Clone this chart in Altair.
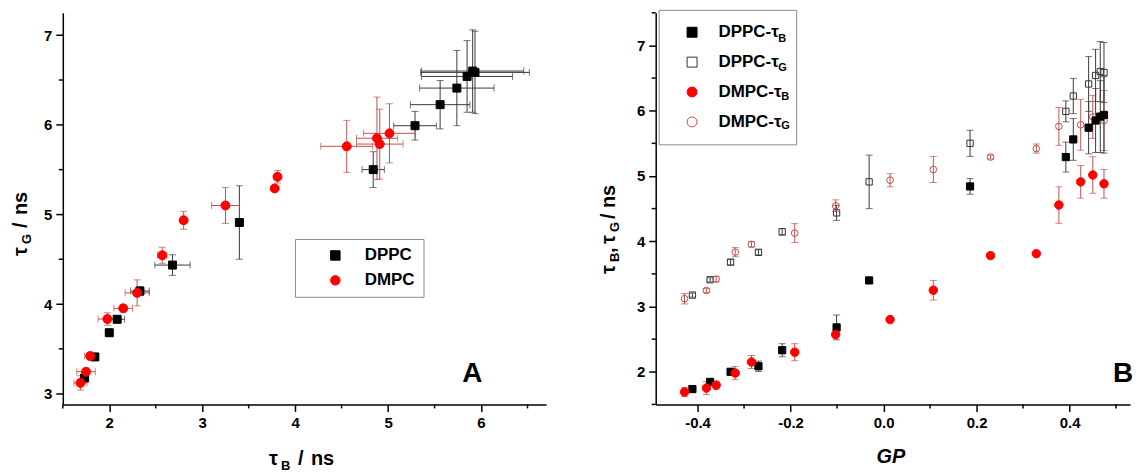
import altair as alt
import pandas as pd

# ---------------- data ----------------
lipids = ["DPPC", "DMPC"]
series_b = ["DPPC-τB", "DPPC-τG", "DMPC-τB", "DMPC-τG"]
series_sub = ["B", "G", "B", "G"]

dppc_gp = [-0.411, -0.373, -0.329, -0.269, -0.218, -0.101, -0.031, 0.186,
           0.392, 0.408, 0.441, 0.456, 0.466, 0.474]
dppc_tauB = [1.735, 1.845, 2.00, 2.085, 2.33, 2.68, 3.40, 4.84,
             5.29, 5.56, 5.74, 5.85, 5.91, 5.935]
dppc_tauB_err = [0.03, 0.03, 0.04, 0.08, 0.10, 0.19, 0.03, 0.12,
                 0.23, 0.32, 0.40, 0.49, 0.55, 0.585]
dppc_tauG = [3.175, 3.41, 3.68, 3.83, 4.145, 4.435, 4.91, 5.50,
             5.99, 6.225, 6.41, 6.54, 6.60, 6.585]
dppc_tauG_err = [0.03, 0.03, 0.04, 0.04, 0.05, 0.115, 0.41, 0.20,
                 0.16, 0.27, 0.42, 0.40, 0.46, 0.46]

dmpc_gp = [-0.428, -0.381, -0.36, -0.319, -0.284, -0.191, -0.103, 0.014,
           0.107, 0.23, 0.3285, 0.377, 0.424, 0.45, 0.474]
dmpc_tauB = [1.69, 1.75, 1.795, 1.98, 2.15, 2.30, 2.57, 2.80,
             3.25, 3.78, 3.81, 4.555, 4.91, 5.015, 4.88]
dmpc_tauB_err = [0.07, 0.10, 0.06, 0.10, 0.10, 0.13, 0.05, 0.02,
                 0.15, 0.02, 0.02, 0.28, 0.25, 0.28, 0.22]
dmpc_tauG = [3.12, 3.245, 3.42, 3.833, 3.952, 4.125, 4.544, 4.935,
             5.10, 5.29, 5.42, 5.76, 5.785, 5.905, 5.85]
dmpc_tauG_err = [0.08, 0.03, 0.04, 0.07, 0.04, 0.145, 0.09, 0.10,
                 0.20, 0.03, 0.07, 0.29, 0.39, 0.33, 0.46]

a_x_ticks = [2, 3, 4, 5, 6]
a_x_minor = [1.5, 2.5, 3.5, 4.5, 5.5, 6.5]
a_y_ticks = [3, 4, 5, 6, 7]
a_y_minor = [3.5, 4.5, 5.5, 6.5]
b_x_ticks = [-0.4, -0.2, 0.0, 0.2, 0.4]
b_x_minor = [-0.3, -0.1, 0.1, 0.3, 0.5]
b_y_ticks = [2, 3, 4, 5, 6, 7]
b_y_minor = [1.5, 2.5, 3.5, 4.5, 5.5, 6.5, 7.5]

# ---------------- styling ----------------
FONT = "Liberation Sans"
BLACK = "#000000"
RED = "#ff0000"
DPPC_BAR = "#3a3a3a"
DMPC_BAR = "#c0504d"
WA, HA = 485, 393
WB, HB = 476, 393
TITLE_FS = 20
SUB_FS = 13
LEG_FS = 17

# ---------------- panel A ----------------
dfA = pd.DataFrame({
    "lipid": ["DPPC"] * len(dppc_tauB) + ["DMPC"] * len(dmpc_tauB),
    "tauB": dppc_tauB + dmpc_tauB,
    "tauG": dppc_tauG + dmpc_tauG,
    "eB": dppc_tauB_err + dmpc_tauB_err,
    "eG": dppc_tauG_err + dmpc_tauG_err,
})
dfA["xlo"] = dfA.tauB - dfA.eB
dfA["xhi"] = dfA.tauB + dfA.eB
dfA["ylo"] = dfA.tauG - dfA.eG
dfA["yhi"] = dfA.tauG + dfA.eG

sxA = alt.Scale(domain=[1.5, 6.7], nice=False, zero=False)
syA = alt.Scale(domain=[2.88, 7.25], nice=False, zero=False)
axA = alt.Axis(values=a_x_ticks, title=None, format="d")
ayA = alt.Axis(values=a_y_ticks, title=None, format="d")


def XA(f):
    return alt.X(f, type="quantitative", scale=sxA, axis=axA)


def YA(f):
    return alt.Y(f, type="quantitative", scale=syA, axis=ayA)


layersA = []
for lip, col in [("DPPC", DPPC_BAR), ("DMPC", DMPC_BAR)]:
    base = alt.Chart(dfA).transform_filter(alt.datum.lipid == lip)
    layersA.append(base.mark_rule(color=col, strokeWidth=1).encode(x=XA("xlo"), x2="xhi", y=YA("tauG")))
    layersA.append(base.mark_rule(color=col, strokeWidth=1).encode(x=XA("tauB"), y=YA("ylo"), y2="yhi"))
    for f in ["xlo", "xhi"]:
        layersA.append(base.mark_tick(color=col, orient="vertical", size=7, thickness=1).encode(x=XA(f), y=YA("tauG")))
    for f in ["ylo", "yhi"]:
        layersA.append(base.mark_tick(color=col, orient="horizontal", size=7, thickness=1).encode(x=XA("tauB"), y=YA(f)))

legA = alt.Legend(title=None, orient="none", legendX=233, legendY=227, padding=8,
                  strokeColor="#8c8c8c", symbolSize=90,
                  symbolStrokeWidth=1, symbolOffset=24, labelOffset=21, rowPadding=7,
                  labelFont=FONT, labelFontSize=LEG_FS, labelFontWeight="bold", labelColor=BLACK)
for lip, sz in [("DPPC", 64), ("DMPC", 81)]:
    layersA.append(
        alt.Chart(dfA).transform_filter(alt.datum.lipid == lip)
        .mark_point(filled=True, opacity=1, strokeWidth=1, size=sz)
        .encode(
            x=XA("tauB"), y=YA("tauG"),
            shape=alt.Shape("lipid:N", scale=alt.Scale(domain=lipids, range=["square", "circle"]), legend=legA),
            fill=alt.Fill("lipid:N", scale=alt.Scale(domain=lipids, range=[BLACK, RED]), legend=legA),
            stroke=alt.Stroke("lipid:N", scale=alt.Scale(domain=lipids, range=[BLACK, RED]), legend=legA),
        )
    )

# minor ticks
layersA.append(alt.Chart(pd.DataFrame({"v": a_x_minor})).mark_rule(color=BLACK, strokeWidth=1.5)
               .encode(x=XA("v"), y=alt.value(HA), y2=alt.value(HA + 4)))
layersA.append(alt.Chart(pd.DataFrame({"v": a_y_minor})).mark_rule(color=BLACK, strokeWidth=1.5)
               .encode(y=YA("v"), x=alt.value(0), x2=alt.value(-4)))


def txt(s, x, y, fs, angle=0, dx=0, dy=0, align="left", baseline="alphabetic", italic=False):
    return (alt.Chart(pd.DataFrame({"t": [s]}))
            .mark_text(font=FONT, fontSize=fs, fontWeight="bold", fontStyle="italic" if italic else "normal",
                       angle=angle, dx=dx, dy=dy, align=align, baseline=baseline, color=BLACK)
            .encode(text="t:N", x=alt.value(x), y=alt.value(y)))


# axis titles for A (tau with subscripts)
layersA += [
    txt("τ", 207, 454, TITLE_FS),
    txt("B", 219, 459, SUB_FS),
    txt("/", 236, 454, TITLE_FS),
    txt("ns", 249, 454, TITLE_FS),
    txt("τ", -36, 244, TITLE_FS, angle=270),
    txt("G", -36, 244, SUB_FS, angle=270, dx=12, dy=4),
    txt("/", -36, 244, TITLE_FS, angle=270, dx=28),
    txt("ns", -36, 244, TITLE_FS, angle=270, dx=41),
    txt("A", 411, 370, 28, align="center"),
]
chartA = alt.layer(*layersA).properties(width=WA, height=HA)

# ---------------- panel B ----------------
dfB = pd.DataFrame({
    "series": (["DPPC-τB"] * len(dppc_gp) + ["DPPC-τG"] * len(dppc_gp)
               + ["DMPC-τB"] * len(dmpc_gp) + ["DMPC-τG"] * len(dmpc_gp)),
    "gp": dppc_gp * 2 + dmpc_gp * 2,
    "tau": dppc_tauB + dppc_tauG + dmpc_tauB + dmpc_tauG,
    "err": dppc_tauB_err + dppc_tauG_err + dmpc_tauB_err + dmpc_tauG_err,
})
dfB["lo"] = dfB.tau - dfB.err
dfB["hi"] = dfB.tau + dfB.err

sxB = alt.Scale(domain=[-0.49, 0.53], nice=False, zero=False)
syB = alt.Scale(domain=[1.5, 7.5], nice=False, zero=False)
axB = alt.Axis(values=b_x_ticks, title=None,
               labelExpr="replace(format(datum.value, '.1f'), '\u2212', '-')")
ayB = alt.Axis(values=b_y_ticks, title=None, format="d")


def XB(f):
    return alt.X(f, type="quantitative", scale=sxB, axis=axB)


def YB(f):
    return alt.Y(f, type="quantitative", scale=syB, axis=ayB)


layersB = []
for s, col in [("DPPC-τG", DPPC_BAR), ("DMPC-τG", DMPC_BAR), ("DPPC-τB", DPPC_BAR), ("DMPC-τB", DMPC_BAR)]:
    base = alt.Chart(dfB).transform_filter(alt.datum.series == s)
    layersB.append(base.mark_rule(color=col, strokeWidth=1).encode(x=XB("gp"), y=YB("lo"), y2="hi"))
    for f in ["lo", "hi"]:
        layersB.append(base.mark_tick(color=col, orient="horizontal", size=7, thickness=1).encode(x=XB("gp"), y=YB(f)))

# legend: label text "DPPC-τ" etc., subscript letter drawn below as a small text
LEG_B_X, LEG_B_Y, LEG_B_PAD, LEG_B_ROWPAD = 3, -3, 14, 12
legB = alt.Legend(title=None, orient="none", legendX=LEG_B_X, legendY=LEG_B_Y, padding=LEG_B_PAD,
                  strokeColor="#8c8c8c", symbolSize=100,
                  symbolStrokeWidth=1, symbolOffset=11, labelOffset=18, rowPadding=LEG_B_ROWPAD,
                  labelExpr="substring(datum.label, 0, length(datum.label) - 1)",
                  labelFont=FONT, labelFontSize=LEG_FS, labelFontWeight="bold", labelColor=BLACK)
for s, sz in [("DPPC-τG", 40), ("DMPC-τG", 45), ("DPPC-τB", 52), ("DMPC-τB", 72)]:
    layersB.append(
        alt.Chart(dfB).transform_filter(alt.datum.series == s)
        .mark_point(filled=True, opacity=1, strokeWidth=1, size=sz)
        .encode(
            x=XB("gp"), y=YB("tau"),
            shape=alt.Shape("series:N", scale=alt.Scale(domain=series_b, range=["square", "square", "circle", "circle"]), legend=legB),
            fill=alt.Fill("series:N", scale=alt.Scale(domain=series_b, range=[BLACK, "transparent", RED, "transparent"]), legend=legB),
            stroke=alt.Stroke("series:N", scale=alt.Scale(domain=series_b, range=[BLACK, "#333333", RED, DMPC_BAR]), legend=legB),
        )
    )

# subscripts for the legend labels
row_h = LEG_FS + LEG_B_ROWPAD
for i, (lab, sub) in enumerate(zip(series_b, series_sub)):
    label_w = 62 if lab.startswith("DPPC") else 65
    cy = LEG_B_Y + LEG_B_PAD + LEG_FS / 2 + i * row_h
    layersB.append(txt(sub, 61 + label_w, cy + 10, 11))

layersB.append(alt.Chart(pd.DataFrame({"v": b_x_minor})).mark_rule(color=BLACK, strokeWidth=1.5)
               .encode(x=XB("v"), y=alt.value(HB), y2=alt.value(HB + 4)))
layersB.append(alt.Chart(pd.DataFrame({"v": b_y_minor})).mark_rule(color=BLACK, strokeWidth=1.5)
               .encode(y=YB("v"), x=alt.value(0), x2=alt.value(-4)))

layersB += [
    txt("GP", 236, 452, TITLE_FS, align="center", italic=True),
    txt("τ", -41, 262, TITLE_FS, angle=270),
    txt("B", -41, 262, SUB_FS, angle=270, dx=12, dy=4),
    txt(",", -41, 262, TITLE_FS, angle=270, dx=21),
    txt("τ", -41, 262, TITLE_FS, angle=270, dx=30),
    txt("G", -41, 262, SUB_FS, angle=270, dx=42, dy=4),
    txt("/", -41, 262, TITLE_FS, angle=270, dx=55),
    txt("ns", -41, 262, TITLE_FS, angle=270, dx=66),
    txt("B", 469, 371, 28, align="center"),
]
chartB = alt.layer(*layersB).properties(width=WB, height=HB)

chart = (
    alt.hconcat(chartA, chartB, spacing=53)
    .resolve_scale(x="independent", y="independent", shape="independent",
                   fill="independent", stroke="independent")
    .configure(padding={"left": 3, "top": 0, "right": 0, "bottom": 0})
    .configure_view(stroke=None)
    .configure_axis(domainColor=BLACK, domainWidth=1.5, tickColor=BLACK, tickWidth=1.5,
                    tickSize=7, labelPadding=4, grid=False, labelFont=FONT, labelFontSize=15,
                    labelFontWeight="bold", labelColor=BLACK)
)

chart.save("out.html", embed_options={"renderer": "svg", "actions": False})
